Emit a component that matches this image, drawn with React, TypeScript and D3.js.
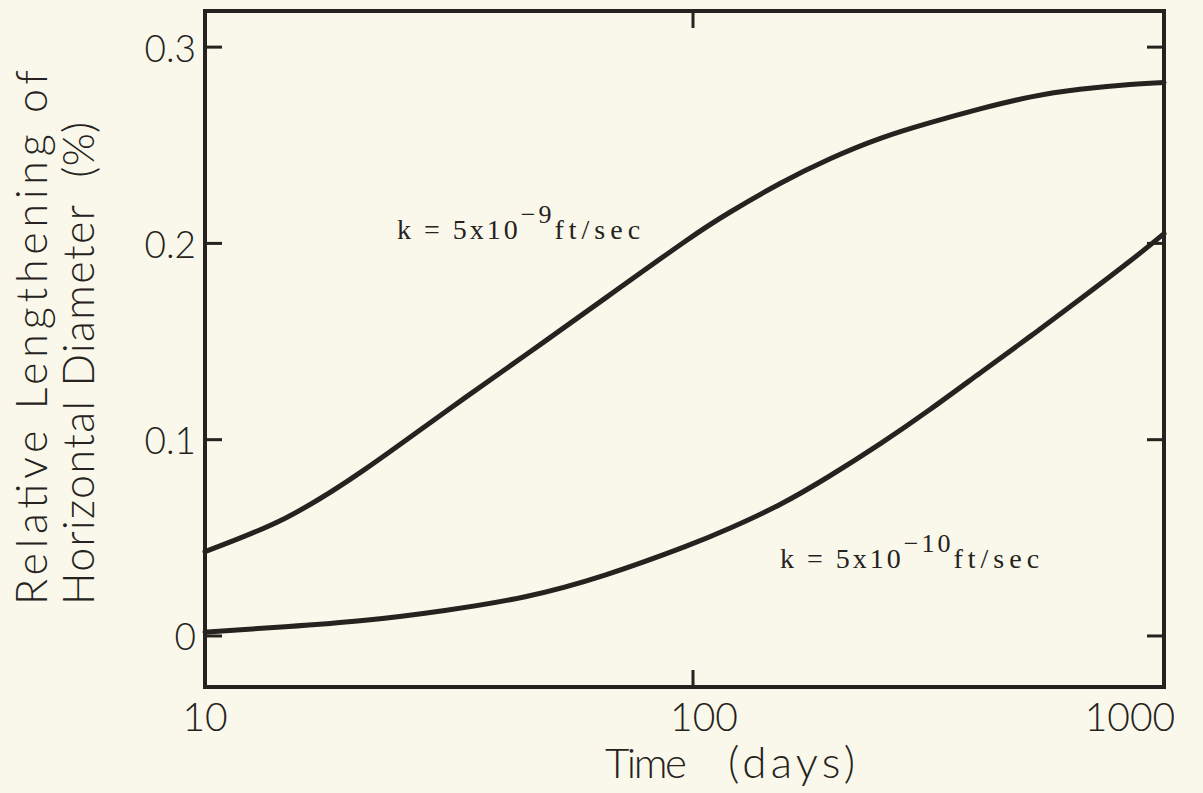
import React from "react";
import * as d3 from "d3";

// ---- data ----
const timeDays = [10, 14.6, 21.3, 31, 45.3, 66, 96.3, 120, 153, 195, 250, 319, 407, 519, 663, 847, 1000];
const seriesK9 = [0.043, 0.06, 0.085, 0.114, 0.143, 0.172, 0.201, 0.216, 0.2305, 0.243, 0.2535, 0.2615, 0.2685, 0.2745, 0.2785, 0.281, 0.282];
const seriesK10 = [0.002, 0.0047, 0.008, 0.013, 0.02, 0.031, 0.0455, 0.055, 0.067, 0.0815, 0.098, 0.1155, 0.134, 0.1525, 0.1715, 0.191, 0.205];
const xTickValues = [10, 100, 1000];
const xTickLabels = ["10", "100", "1000"];
const yTickValues = [0, 0.1, 0.2, 0.3];
const yTickLabels = ["0", "0.1", "0.2", "0.3"];

const W = 1203;
const H = 793;
const left = 205, right = 1164, top = 11, bottom = 687;
const ink = "#252220";
const bg = "#F9F8EA";
const sans = "Lato, 'Open Sans', 'DejaVu Sans', sans-serif";
const serif = "'Liberation Serif', 'DejaVu Serif', serif";

export default function App() {
  const x = d3.scaleLog().domain([10, 100, 1000]).range([left, 693, right]);
  const y = d3.scaleLinear().domain([-0.026, 0.3184]).range([bottom, top]);

  const line = d3
    .line<number>()
    .x((_, i) => x(timeDays[i]))
    .y((v) => y(v))
    .curve(d3.curveNatural);

  const xLabelDx = [0, 11, -34];
  const tick = 17;

  return (
    <svg
      width={W}
      height={H}
      style={{ position: "absolute", left: 0, top: 0, background: bg }}
    >
      <rect x={0} y={0} width={W} height={H} fill={bg} />
      {/* curves */}
      <path d={line(seriesK9) || ""} fill="none" stroke={ink} strokeWidth={5} strokeLinecap="round" />
      <path d={line(seriesK10) || ""} fill="none" stroke={ink} strokeWidth={5} strokeLinecap="round" />

      {/* frame */}
      <rect
        x={left}
        y={top}
        width={right - left}
        height={bottom - top}
        fill="none"
        stroke={ink}
        strokeWidth={4}
      />

      {/* y ticks (inward on both sides) */}
      {yTickValues.map((v, i) => (
        <g key={"y" + i}>
          <line x1={left} x2={left + tick} y1={y(v)} y2={y(v)} stroke={ink} strokeWidth={3} />
          <line x1={right - tick} x2={right} y1={y(v)} y2={y(v)} stroke={ink} strokeWidth={3} />
          <text
            x={196}
            y={y(v)}
            textAnchor="end"
            dominantBaseline="central"
            fontFamily={sans}
            fontWeight={300}
            fontSize={37}
            fill={ink}
          >
            {yTickLabels[i]}
          </text>
        </g>
      ))}

      {/* x ticks (only interior decade) */}
      {xTickValues.map((v, i) => (
        <g key={"x" + i}>
          {v > 10 && v < 1000 && (
            <>
              <line x1={x(v)} x2={x(v)} y1={bottom} y2={bottom - tick} stroke={ink} strokeWidth={3} />
              <line x1={x(v)} x2={x(v)} y1={top} y2={top + tick} stroke={ink} strokeWidth={3} />
            </>
          )}
          <text
            x={x(v) + xLabelDx[i]}
            y={731}
            textAnchor="middle"
            fontFamily={sans}
            fontWeight={300}
            fontSize={39}
            fill={ink}
          >
            {xTickLabels[i]}
          </text>
        </g>
      ))}

      {/* x axis title */}
      <text x={605} y={778} fontFamily={sans} fontWeight={300} fontSize={42} fill={ink} textLength={82} lengthAdjust="spacing">
        Time
      </text>
      <text x={728} y={778} fontFamily={sans} fontWeight={300} fontSize={44} fill={ink} textLength={127} lengthAdjust="spacing">
        (days)
      </text>

      {/* y axis title */}
      <text
        transform="translate(47,605) rotate(-90)"
        fontFamily={sans}
        fontWeight={300}
        fontSize={43}
        fill={ink}
        textLength={535}
        lengthAdjust="spacing"
      >
        Relative Lengthening of
      </text>
      <text
        transform="translate(94,605) rotate(-90)"
        fontFamily={sans}
        fontWeight={300}
        fontSize={43}
        fill={ink}
      >
        <tspan textLength={400} lengthAdjust="spacing">Horizontal Diameter</tspan>
        <tspan dx={26}>(%)</tspan>
      </text>

      {/* annotations */}
      <text x={397} y={239} fontFamily={serif} fontSize={28} fill={ink} letterSpacing={3}>
        k = 5x10
        <tspan dy={-16} fontSize={26}>−9</tspan>
        <tspan dy={16} letterSpacing={5}>ft/sec</tspan>
      </text>
      <text x={780} y={568} fontFamily={serif} fontSize={28} fill={ink} letterSpacing={3}>
        k = 5x10
        <tspan dy={-16} fontSize={26}>−10</tspan>
        <tspan dy={16} letterSpacing={5}>ft/sec</tspan>
      </text>
    </svg>
  );
}
